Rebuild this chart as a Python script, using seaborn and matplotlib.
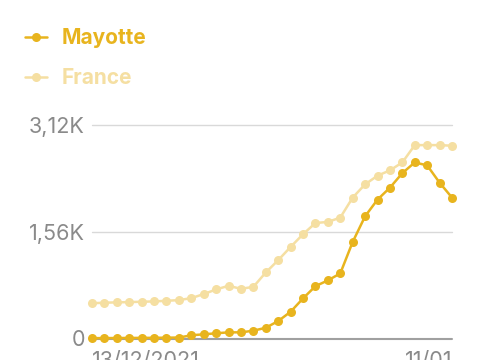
import matplotlib
matplotlib.use('Agg')
import matplotlib.pyplot as plt
import seaborn as sns
import numpy as np
import pandas as pd

# daily values, 13/12/2021 -> 11/01/2022
dates = pd.date_range('2021-12-13', '2022-01-11', freq='D')
mayotte = [5, 6, 7, 8, 9, 10, 12, 14, 47, 61, 76, 90, 90, 114, 157,
           255, 391, 586, 765, 849, 951, 1411, 1786, 2030, 2204, 2417,
           2573, 2530, 2277, 2059]
france = [515, 523, 528, 532, 537, 542, 551, 561, 590, 649, 717, 770,
          726, 755, 965, 1145, 1338, 1524, 1688, 1703, 1767, 2059, 2253,
          2379, 2457, 2573, 2826, 2826, 2826, 2817]
series = ['Mayotte', 'France']
colors = {'Mayotte': '#E8B41E', 'France': '#F5DFA2'}
y_ticks = [0, 1560, 3120]
y_labels = ['0', '1,56K', '3,12K']
x_labels = ['13/12/2021', '11/01']

df = pd.DataFrame({
    'day': list(range(len(dates))) * 2,
    'value': mayotte + france,
    'series': ['Mayotte'] * len(mayotte) + ['France'] * len(france),
})

sns.set_theme(style='white')
plt.rcParams['font.family'] = ['Inter', 'DejaVu Sans']

W, H = 485, 360
fig = plt.figure(figsize=(W / 100, H / 100), dpi=100)
ax = fig.add_axes([92 / W, (H - 338.5) / H, (452 - 92) / W, (338.5 - 125) / H])

# France drawn first so Mayotte sits on top
for name in ['France', 'Mayotte']:
    sub = df[df['series'] == name]
    sns.lineplot(data=sub, x='day', y='value', ax=ax, color=colors[name],
                 marker='o', markersize=6.5, markeredgewidth=0, linewidth=1.8,
                 label=name, clip_on=False, zorder=3)

ax.set_xlim(0, len(dates) - 1)
ax.set_ylim(0, 3120)
for s in ax.spines.values():
    s.set_visible(False)
for yv in y_ticks[1:]:
    ax.axhline(yv, color='#D9D9D9', lw=1.0, zorder=1, clip_on=False)
ax.axhline(0, color='#A0A0A0', lw=1.5, zorder=2, clip_on=False)

ax.set_yticks(y_ticks)
ax.set_yticklabels(y_labels)
ax.tick_params(axis='y', length=0, pad=5, labelsize=15.5, labelcolor='#8A8A8A')
ax.set_xticks([0, len(dates) - 1])
ax.set_xticklabels(x_labels)
ax.tick_params(axis='x', length=0, pad=9, labelsize=15.5, labelcolor='#8A8A8A')
xl = ax.get_xticklabels()
xl[0].set_ha('left')
xl[1].set_ha('right')
ax.set_xlabel('')
ax.set_ylabel('')

# legend top-left, Mayotte first
handles, labels = ax.get_legend_handles_labels()
order = [labels.index(n) for n in series]
ax.get_legend().remove()
leg = fig.legend([handles[i] for i in order], series, loc='upper left',
                 bbox_to_anchor=(25 / W, 1 - 28 / H), frameon=False,
                 borderpad=0, borderaxespad=0,
                 prop={'size': 15, 'weight': 'bold'}, handlelength=1.05,
                 handletextpad=0.72, labelspacing=0.95)
for t, n in zip(leg.get_texts(), series):
    t.set_color(colors[n])

fig.savefig('out.png', dpi=100)
